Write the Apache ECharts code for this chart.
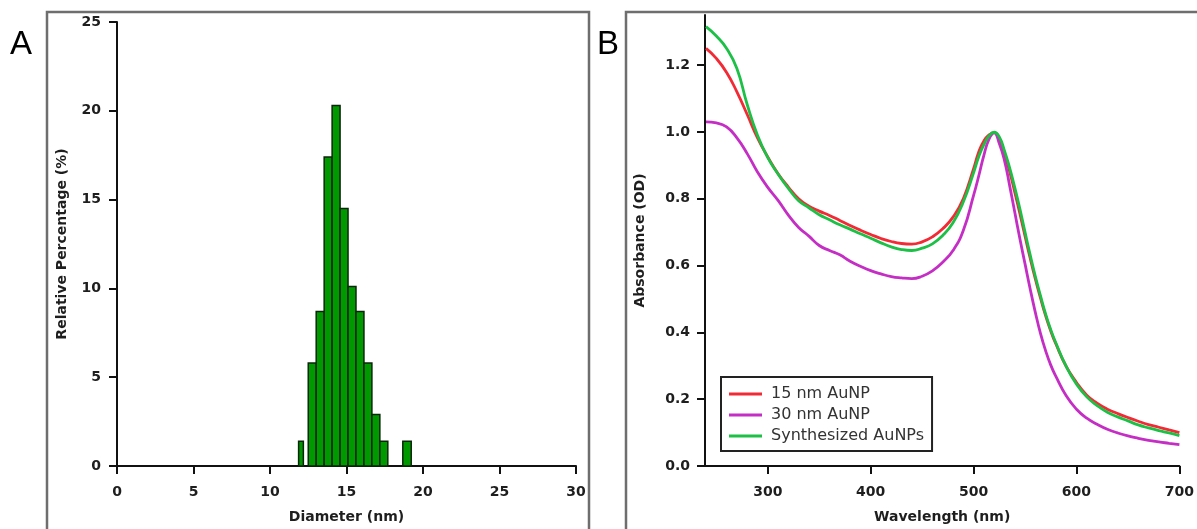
<!DOCTYPE html>
<html>
<head>
<meta charset="utf-8">
<script src="https://cdn.jsdelivr.net/npm/echarts@6/dist/echarts.min.js"></script>
<style>
  html, body { margin: 0; padding: 0; background: #fff; }
  #chart { width: 1197px; height: 529px; }
</style>
</head>
<body>
<div id="chart"></div>
<script>
// Panel A: size distribution histogram (bin edges in nm, relative percentage)
const binLeft  = [11.87, 12.5, 13.02, 13.54, 14.06, 14.58, 15.1, 15.62, 16.14, 16.66, 17.18, 18.68];
const binRight = [12.18, 13.02, 13.54, 14.06, 14.58, 15.1, 15.62, 16.14, 16.66, 17.18, 17.7, 19.23];
const relPercent = [1.4, 5.8, 8.7, 17.4, 20.3, 14.5, 10.1, 8.7, 5.8, 2.9, 1.4, 1.4];

const diameterTicks = [0, 5, 10, 15, 20, 25, 30];
const percentTicks = [0, 5, 10, 15, 20, 25];

// Panel B: UV-Vis absorbance spectra
const wavelengths = [240, 250, 260, 270, 280, 290, 300, 310, 320, 330, 340, 350, 360, 370, 380, 390,
  400, 410, 420, 430, 440, 450, 460, 470, 480, 490, 500, 505, 510, 515, 520, 525, 530, 535, 540,
  545, 550, 555, 560, 565, 570, 575, 580, 590, 600, 610, 620, 630, 640, 650, 660, 670, 680, 690, 700];

const abs15nm = [1.25, 1.22, 1.178, 1.12, 1.052, 0.982, 0.925, 0.875, 0.835, 0.80, 0.778, 0.763,
  0.75, 0.735, 0.72, 0.706, 0.693, 0.681, 0.672, 0.666, 0.664, 0.671, 0.686, 0.71, 0.745, 0.80,
  0.89, 0.94, 0.973, 0.991, 0.998, 0.98, 0.935, 0.882, 0.82, 0.755, 0.688, 0.622, 0.56, 0.503,
  0.45, 0.404, 0.365, 0.298, 0.25, 0.212, 0.188, 0.17, 0.157, 0.145, 0.134, 0.124, 0.116, 0.108, 0.10];

const abs30nm = [1.03, 1.027, 1.015, 0.982, 0.935, 0.88, 0.834, 0.795, 0.751, 0.714, 0.688, 0.66,
  0.645, 0.632, 0.613, 0.598, 0.585, 0.575, 0.567, 0.563, 0.561, 0.568, 0.584, 0.61, 0.645, 0.705,
  0.81, 0.868, 0.93, 0.978, 0.997, 0.965, 0.915, 0.84, 0.76, 0.68, 0.605, 0.53, 0.46, 0.397,
  0.345, 0.302, 0.268, 0.21, 0.17, 0.143, 0.125, 0.11, 0.099, 0.09, 0.083, 0.077, 0.072, 0.068, 0.064];

const absSynth = [1.315, 1.287, 1.25, 1.19, 1.082, 0.99, 0.923, 0.874, 0.831, 0.794, 0.773, 0.752,
  0.737, 0.722, 0.709, 0.695, 0.682, 0.668, 0.656, 0.648, 0.645, 0.652, 0.665, 0.69, 0.728, 0.79,
  0.878, 0.926, 0.962, 0.988, 0.999, 0.985, 0.944, 0.893, 0.834, 0.77, 0.70, 0.632, 0.568, 0.51,
  0.455, 0.408, 0.368, 0.298, 0.245, 0.207, 0.181, 0.161, 0.147, 0.135, 0.123, 0.114, 0.106, 0.099, 0.091];

const wavelengthTicks = [300, 400, 500, 600, 700];
const absorbanceTicks = [0, 0.2, 0.4, 0.6, 0.8, 1.0, 1.2];

const seriesNames = ['15 nm AuNP', '30 nm AuNP', 'Synthesized AuNPs'];
const seriesColors = ['#f22a35', '#c42ec4', '#1cc046'];

const FONT = 'DejaVu Sans';
const labelStyle = { fontFamily: FONT, fontWeight: 'bold', fontSize: 14, color: '#1e1e1e' };
const nameStyle = { fontFamily: FONT, fontWeight: 'bold', fontSize: 14, color: '#1e1e1e' };
const lineStyle = { color: '#111', width: 2 };
const tickStyle = { color: '#111', width: 2 };

const histData = binLeft.map((l, i) => [l, binRight[i], relPercent[i]]);
const pair = (ys) => wavelengths.map((w, i) => [w, ys[i]]);

const chart = echarts.init(document.getElementById('chart'), null, { renderer: 'canvas' });

chart.setOption({
  backgroundColor: '#fff',
  animation: false,
  grid: [
    { left: 117, right: 621, top: 22, bottom: 62 },
    { left: 705, right: 17, top: 15, bottom: 63 }
  ],
  xAxis: [
    {
      gridIndex: 0, type: 'value', min: 0, max: 30, interval: 5,
      name: 'Diameter (nm)', nameLocation: 'middle', nameGap: 44, nameTextStyle: nameStyle,
      axisLine: { show: true, onZero: false, lineStyle },
      axisTick: { show: true, length: 8, lineStyle: tickStyle, customValues: diameterTicks },
      axisLabel: { margin: 19, ...labelStyle, customValues: diameterTicks },
      splitLine: { show: false }
    },
    {
      gridIndex: 1, type: 'value', min: 239, max: 700,
      name: 'Wavelength (nm)', nameLocation: 'middle', nameGap: 44, nameTextStyle: nameStyle,
      axisLine: { show: true, onZero: false, lineStyle },
      axisTick: { show: true, length: 8, lineStyle: tickStyle, customValues: wavelengthTicks },
      axisLabel: { margin: 19, ...labelStyle, customValues: wavelengthTicks },
      splitLine: { show: false }
    }
  ],
  yAxis: [
    {
      gridIndex: 0, type: 'value', min: 0, max: 25, interval: 5,
      name: 'Relative Percentage (%)', nameLocation: 'middle', nameGap: 48, nameRotate: 90,
      nameTextStyle: nameStyle,
      axisLine: { show: true, onZero: false, lineStyle },
      axisTick: { show: true, length: 8, lineStyle: tickStyle, customValues: percentTicks },
      axisLabel: { margin: 16, ...labelStyle, customValues: percentTicks },
      splitLine: { show: false }
    },
    {
      gridIndex: 1, type: 'value', min: 0, max: 1.35,
      name: 'Absorbance (OD)', nameLocation: 'middle', nameGap: 58, nameRotate: 90,
      nameTextStyle: nameStyle,
      axisLine: { show: true, onZero: false, lineStyle },
      axisTick: { show: true, length: 8, lineStyle: tickStyle, customValues: absorbanceTicks },
      axisLabel: { margin: 15, ...labelStyle, customValues: absorbanceTicks,
        formatter: (v) => v.toFixed(1) },
      splitLine: { show: false }
    }
  ],
  legend: {
    orient: 'vertical', left: 721, top: 377,
    itemWidth: 33, itemHeight: 3, itemGap: 5,
    padding: [9, 8, 7, 8],
    borderColor: '#222', borderWidth: 2,
    textStyle: { fontFamily: FONT, fontSize: 16, color: '#333', lineHeight: 16, padding: [0, 0, 0, 4] },
    data: seriesNames.map((n) => ({ name: n, icon: 'rect' }))
  },
  graphic: [
    { type: 'rect', shape: { x: 47, y: 12, width: 542, height: 540 },
      style: { fill: 'none', stroke: '#6e6e6e', lineWidth: 2.5 }, z: 10 },
    { type: 'rect', shape: { x: 626, y: 12, width: 590, height: 540 },
      style: { fill: 'none', stroke: '#6e6e6e', lineWidth: 2.5 }, z: 10 },
    { type: 'text', left: 10, top: 28,
      style: { text: 'A', font: '33px "Liberation Sans"', fill: '#000' } },
    { type: 'text', left: 597, top: 28,
      style: { text: 'B', font: '33px "Liberation Sans"', fill: '#000' } }
  ],
  series: [
    {
      type: 'custom', name: 'histogram', xAxisIndex: 0, yAxisIndex: 0,
      data: histData,
      encode: { x: [0, 1], y: 2 },
      renderItem: (params, api) => {
        const p0 = api.coord([api.value(0), 0]);
        const p1 = api.coord([api.value(1), api.value(2)]);
        return {
          type: 'rect',
          shape: { x: p0[0], y: p1[1], width: p1[0] - p0[0], height: p0[1] - p1[1] },
          style: { fill: '#009a00', stroke: '#0b260b', lineWidth: 1.5 }
        };
      }
    },
    ...[abs15nm, abs30nm, absSynth].map((ys, i) => ({
      type: 'line', name: seriesNames[i], xAxisIndex: 1, yAxisIndex: 1,
      data: pair(ys), smooth: 0.5, showSymbol: false,
      lineStyle: { color: seriesColors[i], width: 2.8 },
      itemStyle: { color: seriesColors[i] }
    }))
  ]
});
</script>
</body>
</html>
